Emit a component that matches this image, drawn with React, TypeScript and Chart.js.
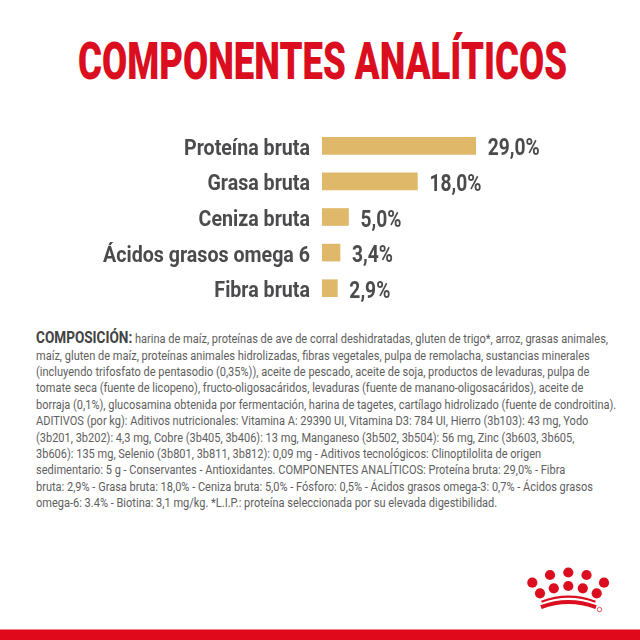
import React, { useEffect, useRef } from "react";
import { Chart, registerables } from "chart.js";

Chart.register(...registerables);

// ---------- data ----------
const categories = [
  "Proteína bruta",
  "Grasa bruta",
  "Ceniza bruta",
  "Ácidos grasos omega 6",
  "Fibra bruta",
];
const values = [29.0, 18.0, 5.0, 3.4, 2.9];
const valueLabels = ["29,0%", "18,0%", "5,0%", "3,4%", "2,9%"];

const titleText = "COMPONENTES ANALÍTICOS";
const compositionHeading = "COMPOSICIÓN:";
const compositionLines = [
  " harina de maíz, proteínas de ave de corral deshidratadas, gluten de trigo*, arroz, grasas animales,",
  "maíz, gluten de maíz, proteínas animales hidrolizadas, fibras vegetales, pulpa de remolacha, sustancias minerales",
  "(incluyendo trifosfato de pentasodio (0,35%)), aceite de pescado, aceite de soja, productos de levaduras, pulpa de",
  "tomate seca (fuente de licopeno), fructo-oligosacáridos, levaduras (fuente de manano-oligosacáridos), aceite de",
  "borraja (0,1%), glucosamina obtenida por fermentación, harina de tagetes, cartílago hidrolizado (fuente de condroitina).",
  "ADITIVOS (por kg): Aditivos nutricionales: Vitamina A: 29390 UI, Vitamina D3: 784 UI, Hierro (3b103): 43 mg, Yodo",
  "(3b201, 3b202): 4,3 mg, Cobre (3b405, 3b406): 13 mg, Manganeso (3b502, 3b504): 56 mg, Zinc (3b603, 3b605,",
  "3b606): 135 mg, Selenio (3b801, 3b811, 3b812): 0,09 mg - Aditivos tecnológicos: Clinoptilolita de origen",
  "sedimentario: 5 g - Conservantes - Antioxidantes. COMPONENTES ANALÍTICOS: Proteína bruta: 29,0% - Fibra",
  "bruta: 2,9% - Grasa bruta: 18,0% - Ceniza bruta: 5,0% - Fósforo: 0,5% - Ácidos grasos omega-3: 0,7% - Ácidos grasos",
  "omega-6: 3.4% - Biotina: 3,1 mg/kg. *L.I.P.: proteína seleccionada por su elevada digestibilidad.",
];

// ---------- style ----------
const RED = "#DA0E1E";
const BAR_COLOR = "#E0B86A";
const LABEL_COLOR = "#4B4B4D";
const TEXT_COLOR = "#5E5E5E";
const HEAD_COLOR = "#424242";
const FONT = "Roboto, 'Noto Sans', sans-serif";

const LABEL_FONT = `bold 22px ${FONT}`;
const VALUE_FONT = `bold 23px ${FONT}`;
const TITLE_SIZE = 52;
const BODY_SIZE = 13.4;
const HEAD_SIZE = 16.5;
const BODY_LINE = 16.4;
const BODY_FIRST_BASELINE = 344;

function measure(text: string, font: string): number {
  const c = document.createElement("canvas").getContext("2d")!;
  c.font = font;
  return c.measureText(text).width;
}

const sideLabels = {
  id: "sideLabels",
  afterDatasetsDraw(chart: any) {
    const ctx = chart.ctx as CanvasRenderingContext2D;
    const meta = chart.getDatasetMeta(0);
    const area = chart.chartArea;
    const kl = 126 / measure(categories[0], LABEL_FONT);
    const kv = 52 / measure(valueLabels[0], VALUE_FONT);
    meta.data.forEach((bar: any, i: number) => {
      const y = bar.y;
      ctx.save();
      ctx.translate(area.left - 12, y + 9);
      ctx.scale(kl, 1);
      ctx.font = LABEL_FONT;
      ctx.fillStyle = LABEL_COLOR;
      ctx.textAlign = "right";
      ctx.textBaseline = "alphabetic";
      ctx.fillText(chart.data.labels[i], 0, 0);
      ctx.restore();

      ctx.save();
      ctx.translate(bar.x + 12, y + 9.5);
      ctx.scale(kv, 1);
      ctx.font = VALUE_FONT;
      ctx.fillStyle = LABEL_COLOR;
      ctx.textAlign = "left";
      ctx.textBaseline = "alphabetic";
      ctx.fillText(valueLabels[i], 0, 0);
      ctx.restore();
    });
  },
};

const logoDots: [number, number][] = [
  [532.3, 582.7],
  [550, 575],
  [568.3, 572.5],
  [586.5, 575],
  [604, 582.7],
  [540, 593.3],
  [553.8, 588.3],
  [568.3, 586],
  [582.8, 588.3],
  [596.7, 593.3],
];

export default function App() {
  const canvasRef = useRef<HTMLCanvasElement | null>(null);

  useEffect(() => {
    const prevMargin = document.body.style.margin;
    document.body.style.margin = "0";
    const chart = new Chart(canvasRef.current!, {
      type: "bar",
      data: {
        labels: categories,
        datasets: [
          {
            data: values,
            backgroundColor: BAR_COLOR,
            borderWidth: 0,
            barThickness: 17,
          },
        ],
      },
      options: {
        indexAxis: "y",
        responsive: false,
        animation: false,
        events: [],
        layout: { padding: { left: 322, right: 0, top: 0, bottom: 0 } },
        plugins: {
          legend: { display: false },
          tooltip: { enabled: false },
          title: { display: false },
        },
        scales: {
          x: { display: false, min: 0, max: 60 },
          y: { display: false },
        },
      },
      plugins: [sideLabels],
    });
    return () => {
      chart.destroy();
      document.body.style.margin = prevMargin;
    };
  }, []);

  const titleFont = `900 ${TITLE_SIZE}px ${FONT}`;
  const titleScale = 489 / measure(titleText, titleFont);
  const line1Width =
    measure(compositionHeading, `bold ${HEAD_SIZE}px ${FONT}`) +
    measure(compositionLines[0], `${BODY_SIZE}px ${FONT}`);
  const bodyScale = 572 / line1Width;

  // baseline offset for Roboto (ascent .928, descent .244) with given line-height
  const baseOffset = (size: number, lh: number) => (lh - 1.172 * size) / 2 + 0.928 * size;

  return (
    <div
      style={{
        position: "fixed",
        left: 0,
        top: 0,
        width: 640,
        height: 640,
        background: "#ffffff",
        overflow: "hidden",
        fontFamily: FONT,
      }}
    >
      <div
        style={{
          position: "absolute",
          left: 78,
          top: 79.5 - baseOffset(TITLE_SIZE, TITLE_SIZE),
          fontSize: TITLE_SIZE,
          lineHeight: `${TITLE_SIZE}px`,
          fontWeight: 900,
          color: RED,
          whiteSpace: "nowrap",
          transform: `scaleX(${titleScale})`,
          transformOrigin: "0 0",
        }}
      >
        {titleText}
      </div>

      <div style={{ position: "absolute", left: 0, top: 128, width: 640, height: 178 }}>
        <canvas ref={canvasRef} width={640} height={178} style={{ display: "block" }} />
      </div>

      {compositionLines.map((line, i) => (
        <div
          key={i}
          style={{
            position: "absolute",
            left: 36,
            top: BODY_FIRST_BASELINE + i * BODY_LINE - baseOffset(BODY_SIZE, BODY_LINE),
            fontSize: BODY_SIZE,
            lineHeight: `${BODY_LINE}px`,
            color: TEXT_COLOR,
            whiteSpace: "nowrap",
            transform: `scaleX(${bodyScale})`,
            transformOrigin: "0 0",
          }}
        >
          {i === 0 ? (
            <span
              style={{
                fontSize: HEAD_SIZE,
                fontWeight: 700,
                color: HEAD_COLOR,
                lineHeight: 0,
              }}
            >
              {compositionHeading}
            </span>
          ) : null}
          {line}
        </div>
      ))}

      <svg
        width={640}
        height={640}
        style={{ position: "absolute", left: 0, top: 0, pointerEvents: "none" }}
      >
        {logoDots.map(([cx, cy], i) => (
          <circle key={i} cx={cx} cy={cy} r={5.1} fill={RED} />
        ))}
        <path d="M541.5 601.8 Q568.3 591.6 595.5 601.8" stroke={RED} strokeWidth={2.2} fill="none" />
        <path d="M541 607.2 Q568.3 596.8 596 607.2" stroke={RED} strokeWidth={4} fill="none" />
        <circle cx={599.5} cy={609.5} r={2.2} fill="none" stroke={RED} strokeWidth={0.7} />
        <rect x={0} y={629.5} width={640} height={10.5} fill="#E0091C" />
      </svg>
    </div>
  );
}
